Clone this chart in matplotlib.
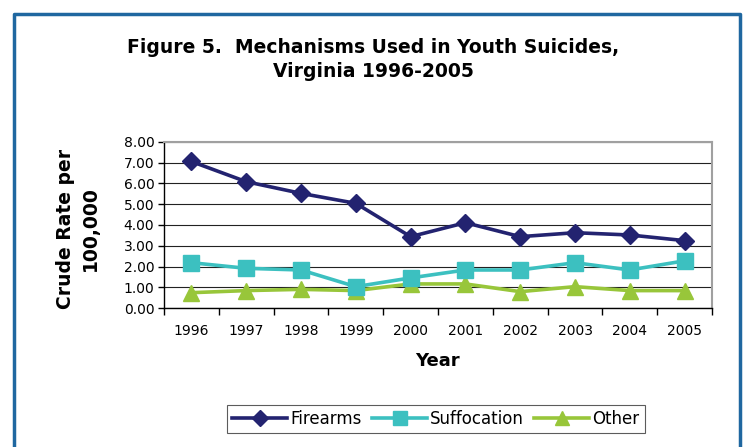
import matplotlib.pyplot as plt
import numpy as np
from matplotlib.lines import Line2D

plt.rcParams['font.family'] = ['DejaVu Sans']

years = ['1996', '1997', '1998', '1999', '2000', '2001', '2002', '2003', '2004', '2005']
firearms = [7.05, 6.08, 5.52, 5.04, 3.44, 4.11, 3.44, 3.63, 3.52, 3.25]
suffocation = [2.19, 1.92, 1.84, 1.04, 1.46, 1.84, 1.84, 2.19, 1.84, 2.28]
other = [0.75, 0.85, 0.91, 0.85, 1.17, 1.17, 0.80, 1.04, 0.85, 0.85]
yticks = [0, 1, 2, 3, 4, 5, 6, 7, 8]

fig = plt.figure(figsize=(7.46, 4.47), dpi=100)

# blue frame round the chart (bottom edge cut off in the original)
fig.add_artist(Line2D([13.5/746, 13.5/746, 740/746, 740/746],
                      [0, 1 - 13.5/447, 1 - 13.5/447, 0],
                      transform=fig.transFigure, color='#1f67a0', lw=2.5))

ax = fig.add_axes([164/746, 1 - 308.3/447, (712 - 164)/746, (308.3 - 141.7)/447])

x = np.arange(len(years))
ax.plot(x, firearms, color='#232370', lw=2.6, marker='D', markersize=9.5, label='Firearms', zorder=5)
ax.plot(x, suffocation, color='#3cc0c0', lw=2.6, marker='s', markersize=11, label='Suffocation', zorder=4)
ax.plot(x, other, color='#98c63a', lw=2.6, marker='^', markersize=11, label='Other', zorder=3)

ax.set_xlim(-0.5, 9.5)
ax.set_ylim(0, 8)
ax.set_yticks(yticks)
ax.set_yticklabels(['%.2f' % v for v in yticks], fontsize=10)

# ticks sit between categories, labels in the middle
ax.set_xticks(np.arange(-0.5, 10, 1))
ax.set_xticklabels([])
ax.set_xticks(x, minor=True)
ax.set_xticklabels(years, minor=True, fontsize=10)
ax.tick_params(axis='x', which='major', direction='out', length=5, width=1)
ax.tick_params(axis='x', which='minor', length=0, pad=11)
ax.tick_params(axis='y', direction='out', length=4, width=1, pad=3)

ax.grid(True, axis='y', color='#222222', lw=0.8)
ax.set_axisbelow(True)
for s in ['top', 'right']:
    ax.spines[s].set_color('#a0a0a0')
    ax.spines[s].set_linewidth(1.5)
for s in ['left', 'bottom']:
    ax.spines[s].set_color('black')
    ax.spines[s].set_linewidth(1)

fig.text(373/746, 1 - 47.5/447, 'Figure 5.  Mechanisms Used in Youth Suicides,',
         ha='center', va='center', fontsize=13.5, fontweight='bold')
fig.text(373/746, 1 - 71.5/447, 'Virginia 1996-2005',
         ha='center', va='center', fontsize=13.5, fontweight='bold')

fig.text(437/746, 1 - 361.5/447, 'Year', ha='center', va='center', fontsize=13, fontweight='bold')
fig.text(78/746, 1 - 229/447, 'Crude Rate per\n100,000', ha='center', va='center',
         rotation=90, fontsize=13.5, fontweight='bold', linespacing=1.4)

leg = fig.legend(loc='center', bbox_to_anchor=(436/746, 1 - 418.5/447), ncol=3,
                 fontsize=12, frameon=True, fancybox=False, edgecolor='#333333',
                 handlelength=3.3, handletextpad=0.2, columnspacing=0.6,
                 borderpad=0.3, borderaxespad=0, markerscale=0.9)
leg.get_frame().set_linewidth(0.8)

plt.savefig('out.png', dpi=100)
